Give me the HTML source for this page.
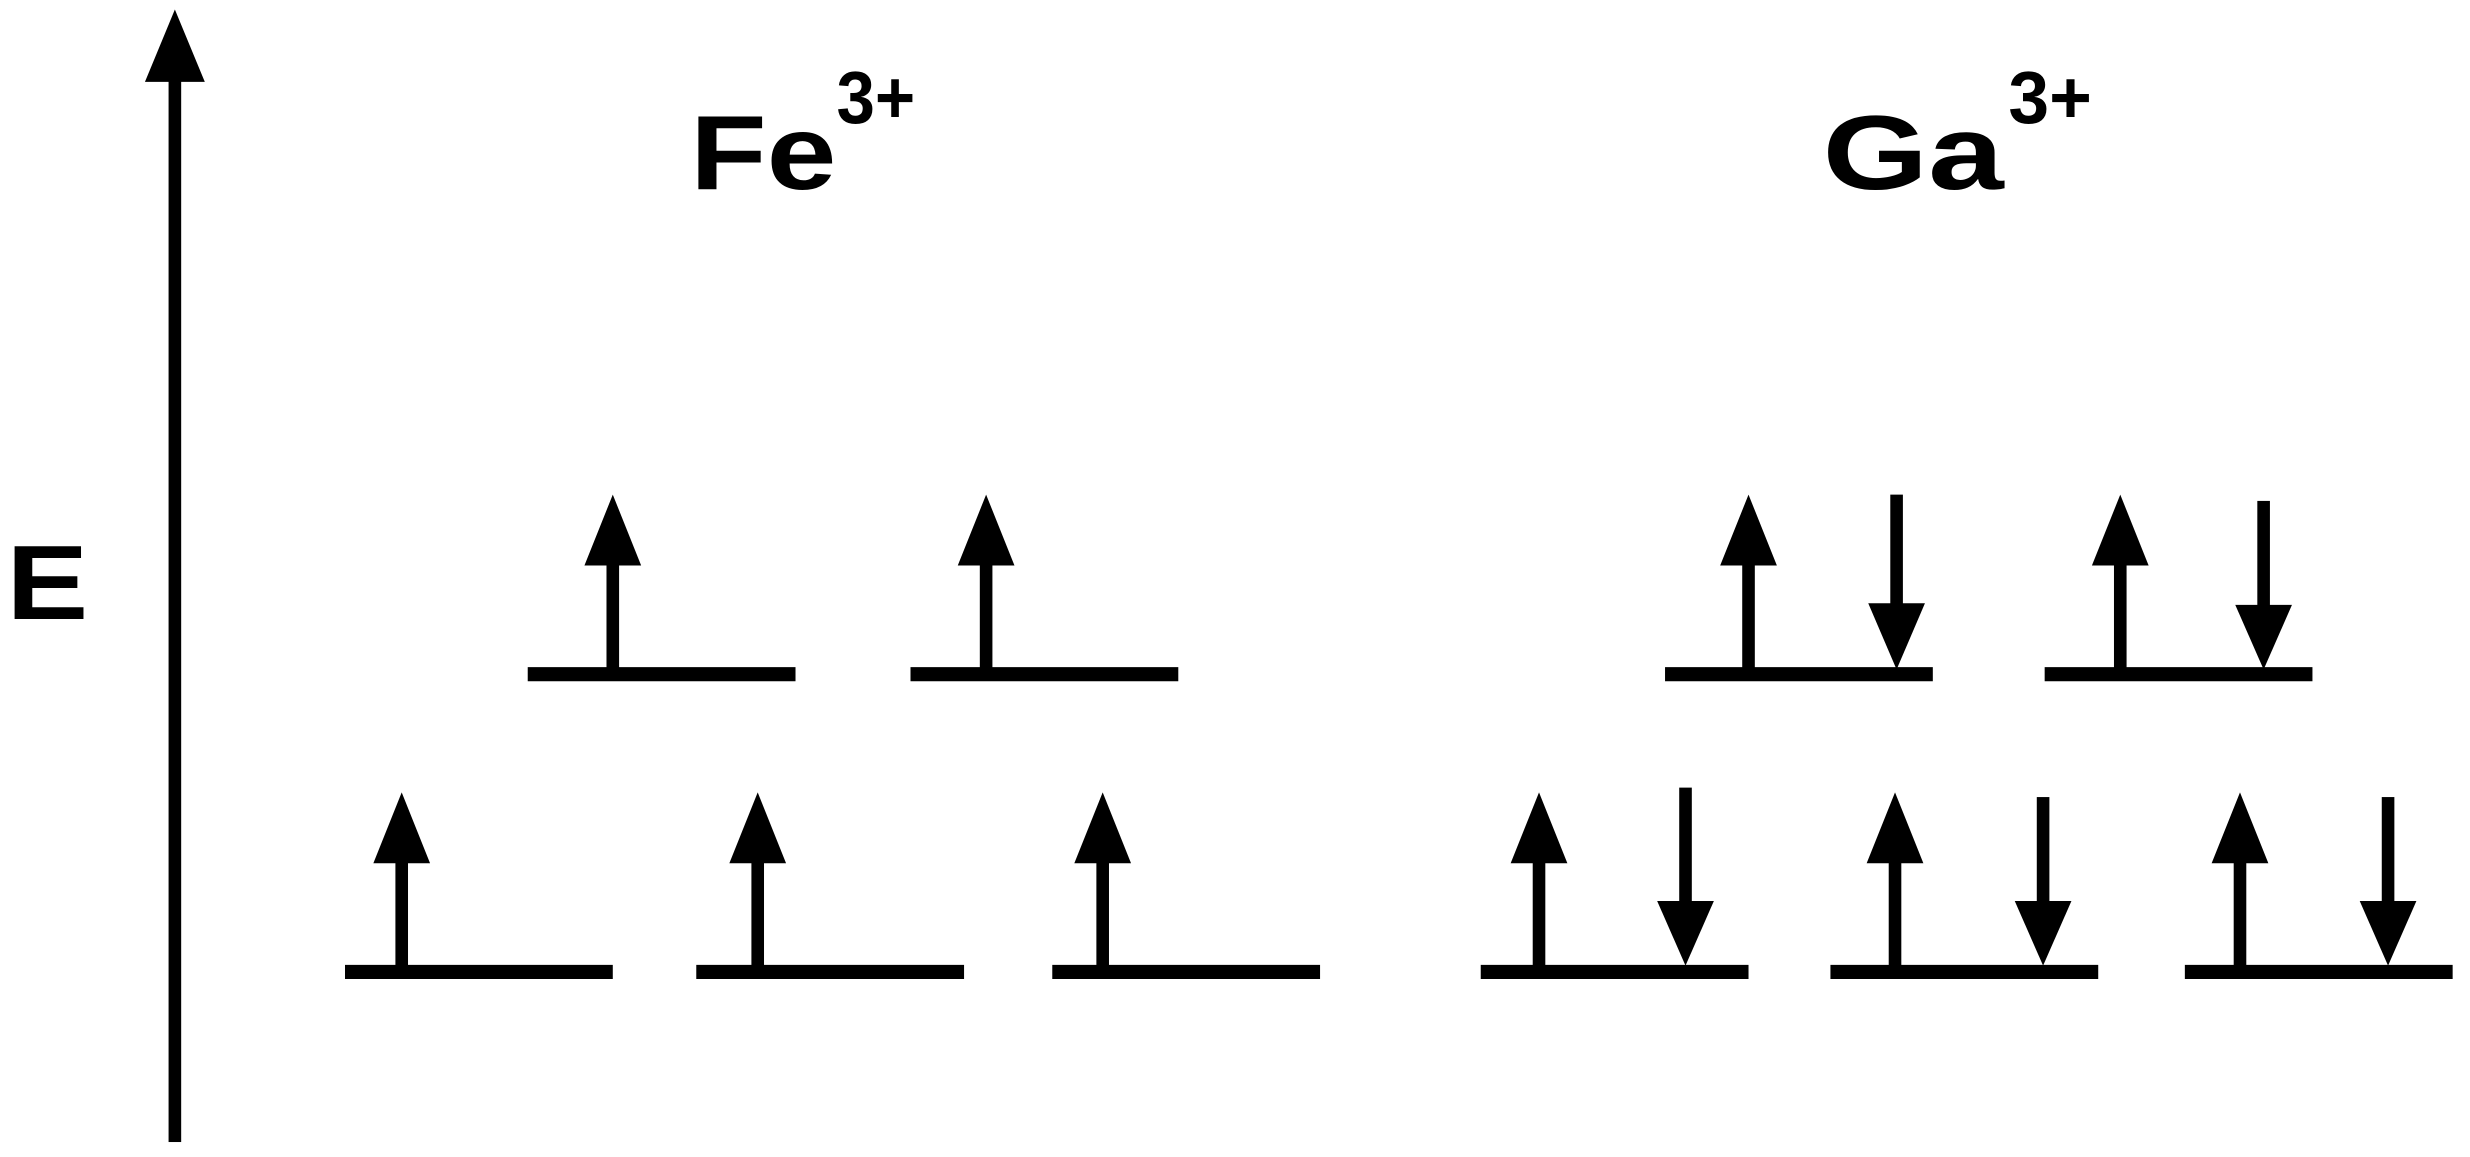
<!DOCTYPE html>
<html><head><meta charset="utf-8"><style>
html,body{margin:0;padding:0;background:#fff;}
svg{display:block;}
</style></head><body>
<svg width="2470" height="1157" viewBox="0 0 1568 734.5" xmlns="http://www.w3.org/2000/svg">
<defs>
<g id="up"><rect x="-4" y="38" width="8" height="80"/><polygon points="0,0 -18,45 18,45"/></g>
</defs>
<rect width="1568" height="734.5" fill="#fff"/>
<g fill="#000" stroke="none">
<rect x="107" y="45" width="8" height="680"/>
<polygon points="111,6 92,52 130,52"/>
</g>
<g font-family="'Liberation Sans', Arial, sans-serif" font-weight="bold" fill="#000">
<text x="4" y="393" font-size="67" textLength="52" lengthAdjust="spacingAndGlyphs">E</text>
<text x="438" y="120" font-size="67" textLength="93" lengthAdjust="spacingAndGlyphs">Fe</text>
<text x="531" y="78" font-size="47" textLength="50" lengthAdjust="spacingAndGlyphs">3+</text>
<text x="1157" y="120" font-size="67" textLength="115" lengthAdjust="spacingAndGlyphs">Ga</text>
<text x="1275" y="78" font-size="47" textLength="53" lengthAdjust="spacingAndGlyphs">3+</text>
</g>
<g stroke="#000" stroke-width="9">
<line x1="335" y1="428" x2="505" y2="428"/>
<line x1="578" y1="428" x2="748" y2="428"/>
<line x1="219" y1="617" x2="389" y2="617"/>
<line x1="442" y1="617" x2="612" y2="617"/>
<line x1="668" y1="617" x2="838" y2="617"/>
<line x1="1057" y1="428" x2="1227" y2="428"/>
<line x1="1298" y1="428" x2="1468" y2="428"/>
<line x1="940" y1="617" x2="1110" y2="617"/>
<line x1="1162" y1="617" x2="1332" y2="617"/>
<line x1="1387" y1="617" x2="1557" y2="617"/>
</g>
<g fill="#000">
<use href="#up" transform="translate(389,314)"/>
<use href="#up" transform="translate(626,314)"/>
<use href="#up" transform="translate(1110,314)"/>
<use href="#up" transform="translate(1346,314)"/>
<use href="#up" transform="translate(255,503)"/>
<use href="#up" transform="translate(481,503)"/>
<use href="#up" transform="translate(700,503)"/>
<use href="#up" transform="translate(977,503)"/>
<use href="#up" transform="translate(1203,503)"/>
<use href="#up" transform="translate(1422,503)"/>
<rect x="1200" y="314" width="8" height="75"/><polygon points="1204,425 1186,383 1222,383"/>
<rect x="1433" y="318" width="8" height="72"/><polygon points="1437,425 1419,384 1455,384"/>
<rect x="1066" y="500" width="8" height="82"/><polygon points="1070,613 1052,572 1088,572"/>
<rect x="1293" y="506" width="8" height="76"/><polygon points="1297,613 1279,572 1315,572"/>
<rect x="1512" y="506" width="8" height="76"/><polygon points="1516,613 1498,572 1534,572"/>
</g>
</svg>
</body></html>
